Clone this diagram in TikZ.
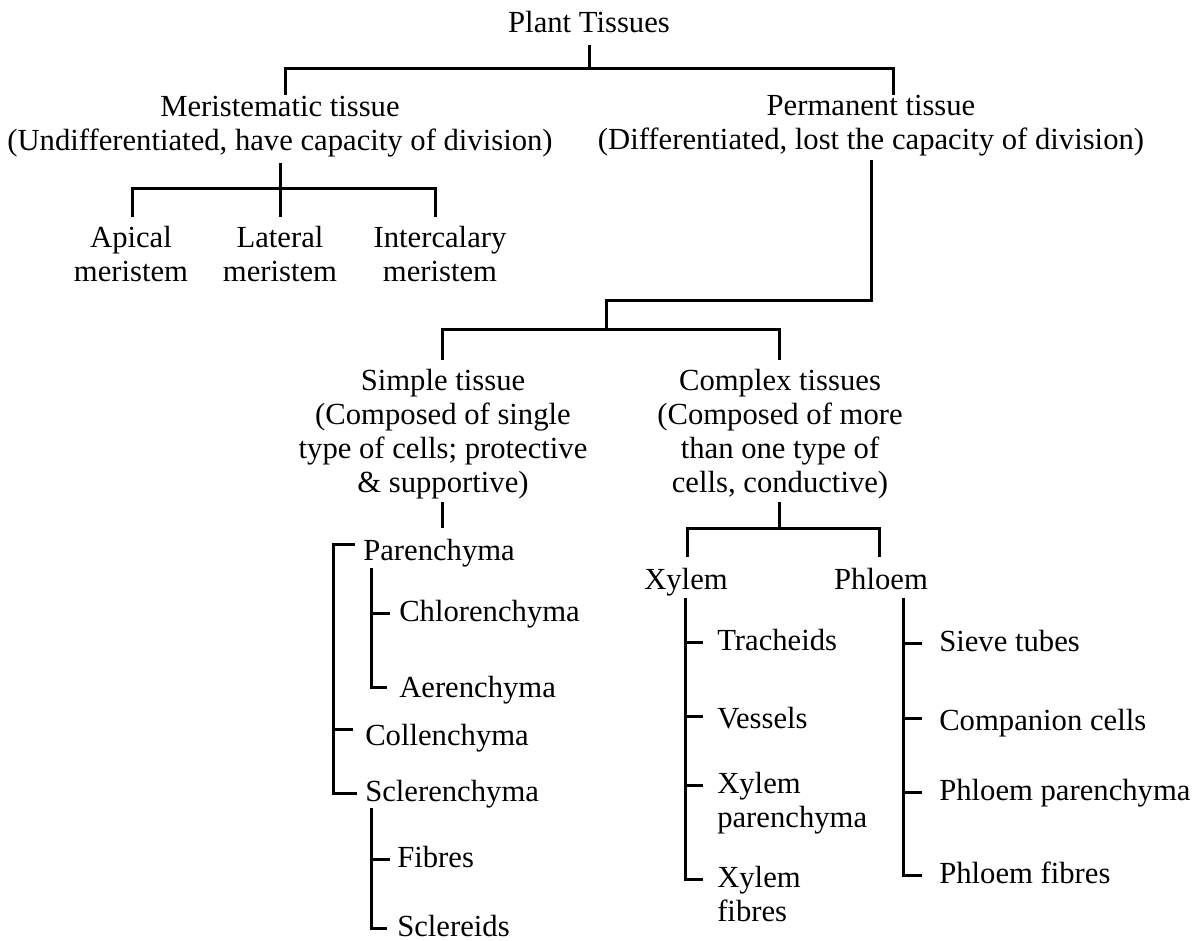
\documentclass[tikz,border=0pt]{standalone}
\usepackage{fontspec}
\setmainfont{Liberation Serif}
\newcommand{\plantfont}{\fontsize{23pt}{25.5pt}\selectfont}

\begin{document}
\plantfont
\begin{tikzpicture}
[lineDecorate/.style={-,line width=2.25pt},%
  textDecorate/.style={inner sep=0pt,align=center,anchor=base,font=\plantfont},
  itemDecorate/.style={inner sep=0pt,align=left,anchor=base west,font=\plantfont},
  x=0.75pt,y=-0.75pt]
\useasboundingbox (0,0) rectangle (1200,941);
%% headings (y is the baseline of the last line)
\foreach \nodename/\x/\y/\nodetext in {
  plant/589/33/{Plant Tissues},
  meri/280/151/{Meristematic tissue\\(Undifferentiated, have capacity of division)},
  perm/871/150/{Permanent tissue\\(Differentiated, lost the capacity of division)},
  apical/131/282/{Apical\\meristem},
  lateral/280/282/{Lateral\\meristem},
  inter/440/282/{Intercalary\\meristem},
  simple/443/492/{Simple tissue\\(Composed of single\\type of cells; protective\\\& supportive)},
  complex/780/492/{Complex tissues\\(Composed of more\\than one type of\\cells, conductive)},
  xylem/686/589/Xylem,
  phloem/881/589/Phloem}
{
  \node (\nodename) at (\x,\y) [textDecorate] {\nodetext};
}
%% leaves
\foreach \nodename/\x/\y/\nodetext in {
  paren/363/560/Parenchyma,
  chlor/399/621/Chlorenchyma,
  aeren/399/697/Aerenchyma,
  colle/365/745/Collenchyma,
  scler/365/801/Sclerenchyma,
  fibre/397/867/Fibres,
  sclid/397/936/Sclereids,
  trach/717/650/Tracheids,
  vessel/717/728/Vessels,
  xpar/717/827/{Xylem\\parenchyma},
  xfib/717/921/{Xylem\\fibres},
  sieve/939/651/Sieve tubes,
  compan/939/730/Companion cells,
  ppar/939/800/Phloem parenchyma,
  pfib/939/883/Phloem fibres}
{
  \node (\nodename) at (\x,\y) [itemDecorate] {\nodetext};
}
%% junctions
\coordinate (rootTop) at (589,45);
\coordinate (rootBar) at (589,69);
\coordinate (meriIn) at (285,95);
\coordinate (permIn) at (893,95);
\coordinate (meriOut) at (280,163);
\coordinate (meriBar) at (280,189);
\coordinate (apicalIn) at (132,217);
\coordinate (lateralIn) at (280,217);
\coordinate (interIn) at (435,217);
\coordinate (permOut) at (871,160);
\coordinate (splitTop) at (606,301);
\coordinate (splitBar) at (606,330);
\coordinate (simpleIn) at (442,360);
\coordinate (complexIn) at (779,360);
\coordinate (simpleOut) at (442,502);
\coordinate (simpleEnd) at (442,528);
\coordinate (complexOut) at (779,502);
\coordinate (complexBar) at (779,528);
\coordinate (xylemIn) at (687,557);
\coordinate (phloemIn) at (879,557);
\coordinate (simpleCol) at (333,0);
\coordinate (parenSub) at (371,568);
\coordinate (sclerSub) at (371,808);
\coordinate (xylemCol) at (685,598);
\coordinate (phloemCol) at (903,598);
\coordinate (parenTick) at ([xshift=-6pt,yshift=6pt]paren.mid west);
\coordinate (colleTick) at ([xshift=-9pt,yshift=6pt]colle.mid west);
\coordinate (vesselTick) at ([xshift=-10.5pt,yshift=3pt]vessel.mid west);
\coordinate (xparTick) at ([xshift=-10.5pt,yshift=25.5pt]xpar.mid west);
\coordinate (xfibTick) at ([xshift=-10.5pt,yshift=25.5pt]xfib.mid west);
\coordinate (companTick) at ([xshift=-12.75pt,yshift=3pt]compan.mid west);
%% edges or lines
\draw[lineDecorate] (rootTop) -- (rootBar);
\draw[lineDecorate] (meriIn) |- (rootBar) -| (permIn);
\draw[lineDecorate] (meriOut) -- (lateralIn);
\draw[lineDecorate] (apicalIn) |- (meriBar) -| (interIn);
\draw[lineDecorate] (permOut) |- (splitTop) -- (splitBar);
\draw[lineDecorate] (simpleIn) |- (splitBar) -| (complexIn);
\draw[lineDecorate] (simpleOut) -- (simpleEnd);
\draw[lineDecorate] (complexOut) -- (complexBar);
\draw[lineDecorate] (xylemIn) |- (complexBar) -| (phloemIn);
% simple tissue bracket
\draw[lineDecorate] (parenTick) -| (simpleCol |- scler.mid west)
  -- ([xshift=-6pt]scler.mid west);
\draw[lineDecorate] (simpleCol |- colleTick) -- (colleTick);
\draw[lineDecorate] (parenSub) |- ([xshift=-9pt,yshift=2pt]aeren.mid west);
\draw[lineDecorate] (parenSub |- chlor.mid west) -- ([xshift=-7pt]chlor.mid west);
\draw[lineDecorate] (sclerSub) |- ([xshift=-7.5pt]sclid.mid west);
\draw[lineDecorate] (sclerSub |- fibre.mid west) -- ([xshift=-5pt]fibre.mid west);
% xylem and phloem
\draw[lineDecorate] (xylemCol) |- (xfibTick);
\draw[lineDecorate] (xylemCol |- trach.mid west) -- ([xshift=-10.5pt]trach.mid west);
\draw[lineDecorate] (xylemCol |- vesselTick) -- (vesselTick);
\draw[lineDecorate] (xylemCol |- xparTick) -- (xparTick);
\draw[lineDecorate] (phloemCol) |- ([xshift=-12.75pt]pfib.mid west);
\draw[lineDecorate] (phloemCol |- companTick) -- (companTick);
\foreach \leaf in {sieve,ppar}
  \draw[lineDecorate] (phloemCol |- \leaf.mid west) -- ([xshift=-12.75pt]\leaf.mid west);
\end{tikzpicture}
\end{document}
